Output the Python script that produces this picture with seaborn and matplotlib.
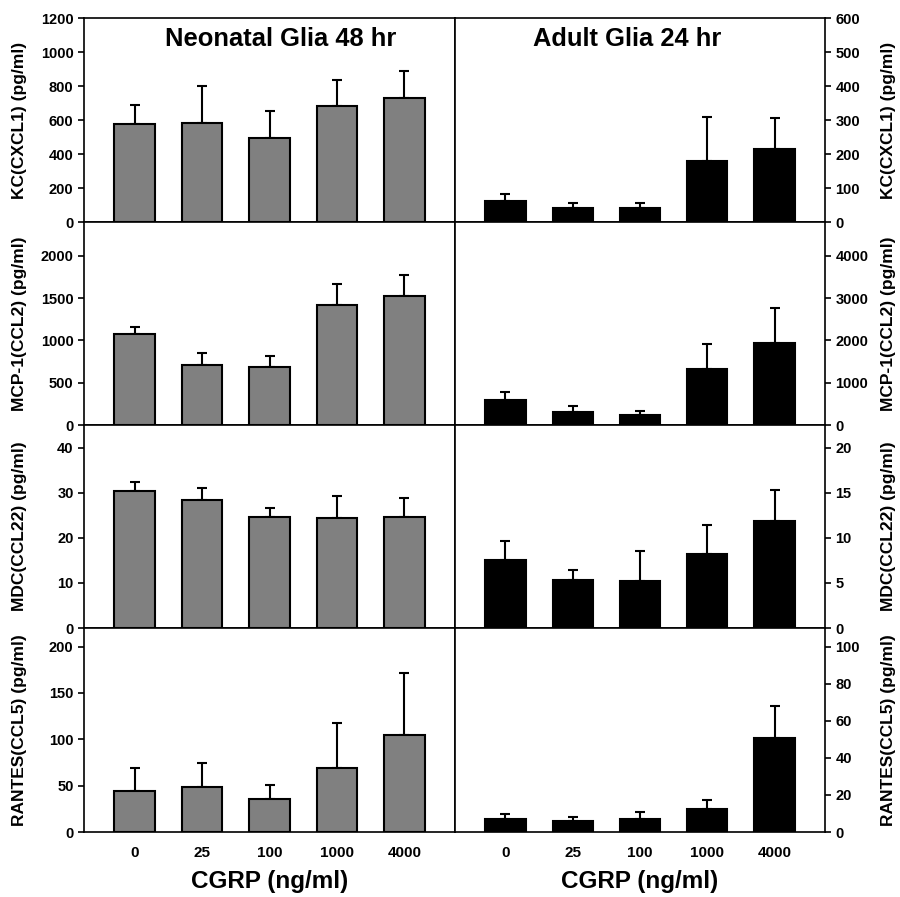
import matplotlib
matplotlib.use("Agg")
import matplotlib.pyplot as plt
import numpy as np
import pandas as pd
import seaborn as sns

doses = ['0', '25', '100', '1000', '4000']

# neonatal glia 48 hr (mean, upper SE)
neo_kc = [575, 585, 495, 685, 730]
neo_kc_err = [112, 216, 157, 150, 159]
neo_mcp = [1075, 715, 690, 1415, 1525]
neo_mcp_err = [85, 140, 125, 250, 245]
neo_mdc = [30.4, 28.4, 24.7, 24.3, 24.6]
neo_mdc_err = [2.0, 2.6, 2.0, 4.9, 4.3]
neo_rantes = [44, 48, 36, 69, 105]
neo_rantes_err = [25, 26, 15, 49, 67]

# adult glia 24 hr
adult_kc = [62, 40, 40, 178, 215]
adult_kc_err = [19, 15, 16, 130, 91]
adult_mcp = [585, 315, 235, 1335, 1950]
adult_mcp_err = [205, 135, 95, 585, 820]
adult_mdc = [7.5, 5.3, 5.2, 8.2, 11.9]
adult_mdc_err = [2.1, 1.1, 3.3, 3.2, 3.4]
adult_rantes = [7.0, 5.8, 7.0, 12.6, 50.9]
adult_rantes_err = [2.7, 2.5, 4.0, 4.7, 17.1]

ylabels = ['KC(CXCL1) (pg/ml)', 'MCP-1(CCL2) (pg/ml)',
           'MDC(CCL22) (pg/ml)', 'RANTES(CCL5) (pg/ml)']
neo_ylim = [1200, 2400, 45, 220]
neo_step = [200, 500, 10, 50]
adult_ylim = [600, 4800, 22.5, 110]
adult_step = [100, 1000, 5, 20]

sns.set_style('ticks')
plt.rcParams['font.family'] = ['Liberation Sans', 'DejaVu Sans']
plt.rcParams['font.weight'] = 'bold'
for k in ['text.color', 'axes.labelcolor', 'xtick.color', 'ytick.color', 'axes.edgecolor']:
    plt.rcParams[k] = 'black'

fig = plt.figure(figsize=(9, 8.97), dpi=100)

rows_top = [18, 222, 425, 628, 832]
H = 897.0

neo = [(neo_kc, neo_kc_err), (neo_mcp, neo_mcp_err),
       (neo_mdc, neo_mdc_err), (neo_rantes, neo_rantes_err)]
adult = [(adult_kc, adult_kc_err), (adult_mcp, adult_mcp_err),
         (adult_mdc, adult_mdc_err), (adult_rantes, adult_rantes_err)]


def draw_panel(ax, vals, errs, color, ymax, step, label, side):
    df = pd.DataFrame({'dose': doses, 'val': vals})
    sns.barplot(data=df, x='dose', y='val', color=color, edgecolor='black',
                linewidth=1.5, width=0.6, saturation=1, errorbar=None, ax=ax,
                zorder=2)
    ax.errorbar(np.arange(len(doses)), vals, yerr=[np.zeros(len(errs)), errs],
                fmt='none', ecolor='black', elinewidth=1.5, capsize=3.6,
                capthick=1.5, zorder=1)
    ax.set_xlim(-0.75, 4.75)
    ax.set_ylim(0, ymax)
    ax.set_yticks(np.arange(0, ymax + 1e-9, step))
    ax.yaxis.set_major_formatter(matplotlib.ticker.FuncFormatter(lambda v, p: f'{v:g}'))
    ax.set_xlabel('')
    ax.set_ylabel(label, fontsize=12.5, fontweight='bold')
    ax.tick_params(axis='y', labelsize=10.5, width=1.2, length=4, direction='out')
    ax.tick_params(axis='x', length=0, labelsize=11)
    if side == 'right':
        ax.yaxis.tick_right()
        ax.yaxis.set_label_position('right')
        ax.yaxis.set_label_coords(1.152, 0.5)
    else:
        ax.yaxis.set_label_coords(-0.154, 0.5)
    for sp in ax.spines.values():
        sp.set_visible(True)
        sp.set_linewidth(1.2)
    for t in ax.get_xticklabels() + ax.get_yticklabels():
        t.set_fontweight('bold')


for i in range(4):
    bottom = 1 - rows_top[i + 1] / H
    h = (rows_top[i + 1] - rows_top[i]) / H
    axl = fig.add_axes([84 / 900, bottom, 371 / 900, h])
    axr = fig.add_axes([455 / 900, bottom, 370 / 900, h])
    draw_panel(axl, neo[i][0], neo[i][1], '#808080', neo_ylim[i], neo_step[i],
               ylabels[i], 'left')
    draw_panel(axr, adult[i][0], adult[i][1], 'black', adult_ylim[i], adult_step[i],
               ylabels[i], 'right')
    if i < 3:
        axl.set_xticklabels([])
        axr.set_xticklabels([])
    else:
        axl.tick_params(axis='x', pad=10)
        axr.tick_params(axis='x', pad=10)
        axl.set_xlabel('CGRP (ng/ml)', fontsize=17.5, fontweight='bold', labelpad=7)
        axr.set_xlabel('CGRP (ng/ml)', fontsize=17.5, fontweight='bold', labelpad=7)
    if i == 0:
        axl.text(0.53, 0.955, 'Neonatal Glia 48 hr', transform=axl.transAxes,
                 ha='center', va='top', fontsize=18.4, fontweight='bold')
        axr.text(0.465, 0.955, 'Adult Glia 24 hr', transform=axr.transAxes,
                 ha='center', va='top', fontsize=18.4, fontweight='bold')

fig.savefig('out.png', dpi=100)
